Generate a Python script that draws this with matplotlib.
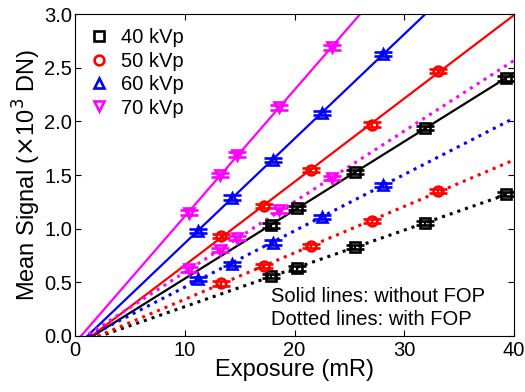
import numpy as np
import matplotlib
matplotlib.use("Agg")
import matplotlib.pyplot as plt

plt.rcParams['font.family'] = ['Liberation Sans', 'DejaVu Sans']

# exposure (mR) for each tube voltage, and mean signal in 10^3 DN
labels = ['40 kVp', '50 kVp', '60 kVp', '70 kVp']
colors = ['black', 'red', 'blue', 'magenta']
markers = ['s', 'o', '^', 'v']

exp_40 = [17.9, 20.2, 25.5, 31.9, 39.3]
exp_50 = [13.3, 17.2, 21.5, 27.1, 33.1]
exp_60 = [11.2, 14.3, 18.0, 22.5, 28.1]
exp_70 = [10.4, 13.2, 14.8, 18.6, 23.4]

no_fop_40 = [1.03, 1.19, 1.53, 1.94, 2.40]
no_fop_50 = [0.93, 1.21, 1.55, 1.97, 2.47]
no_fop_60 = [0.98, 1.29, 1.64, 2.08, 2.63]
no_fop_70 = [1.15, 1.50, 1.69, 2.13, 2.69]

fop_40 = [0.56, 0.63, 0.83, 1.05, 1.32]
fop_50 = [0.49, 0.65, 0.84, 1.07, 1.35]
fop_60 = [0.53, 0.67, 0.87, 1.11, 1.41]
fop_70 = [0.62, 0.80, 0.91, 1.17, 1.47]

exposures = [exp_40, exp_50, exp_60, exp_70]
without_fop = [no_fop_40, no_fop_50, no_fop_60, no_fop_70]
with_fop = [fop_40, fop_50, fop_60, fop_70]

fig = plt.figure(figsize=(5.25, 3.92), dpi=100)
ax = fig.add_axes([0.143, 0.143, 0.836, 0.821])

xfit = np.linspace(0, 40, 200)
for x, y_s, y_d, c, m, lab in zip(exposures, without_fop, with_fop, colors, markers, labels):
    x = np.array(x)
    for y, ls, lw in ((y_s, '-', 1.6), (y_d, ':', 2.2)):
        p = np.polyfit(x, y, 1)
        ax.plot(xfit, np.polyval(p, xfit), ls=ls, color=c, lw=lw)
        ax.errorbar(x, y, yerr=0.02, fmt=m, color=c, mfc='none', mec=c,
                    mew=1.9, ms=7, capsize=6.5, elinewidth=1.6, capthick=1.8)
    # legend entry: marker only
    ax.plot([], [], m, color=c, mfc='none', mew=1.9, ms=7, label=lab)

ax.set_xlim(0, 40)
ax.set_ylim(0, 3.0)
ax.set_xticks([0, 10, 20, 30, 40])
ax.set_yticks(np.arange(0, 3.01, 0.5))
ax.yaxis.set_major_formatter(matplotlib.ticker.FormatStrFormatter('%.1f'))
ax.tick_params(direction='in', top=True, right=True, length=4, labelsize=14.5)
ax.tick_params(axis='y', pad=2)
ax.tick_params(axis='x', pad=4)
ax.set_xlabel('Exposure (mR)', fontsize=17, labelpad=-1)
ax.set_ylabel('Mean Signal ($\\times$10$^3$ DN)', fontsize=17, labelpad=1)

ax.legend(loc='upper left', frameon=False, fontsize=14.5, handlelength=1.0,
          handletextpad=0.6, labelspacing=0.22, borderaxespad=0.3,
          bbox_to_anchor=(0.0, 1.0))

ax.text(17.9, 0.37, 'Solid lines: without FOP', fontsize=14.5, va='center')
ax.text(17.9, 0.15, 'Dotted lines: with FOP', fontsize=14.5, va='center')

fig.savefig('out.png', dpi=100)
